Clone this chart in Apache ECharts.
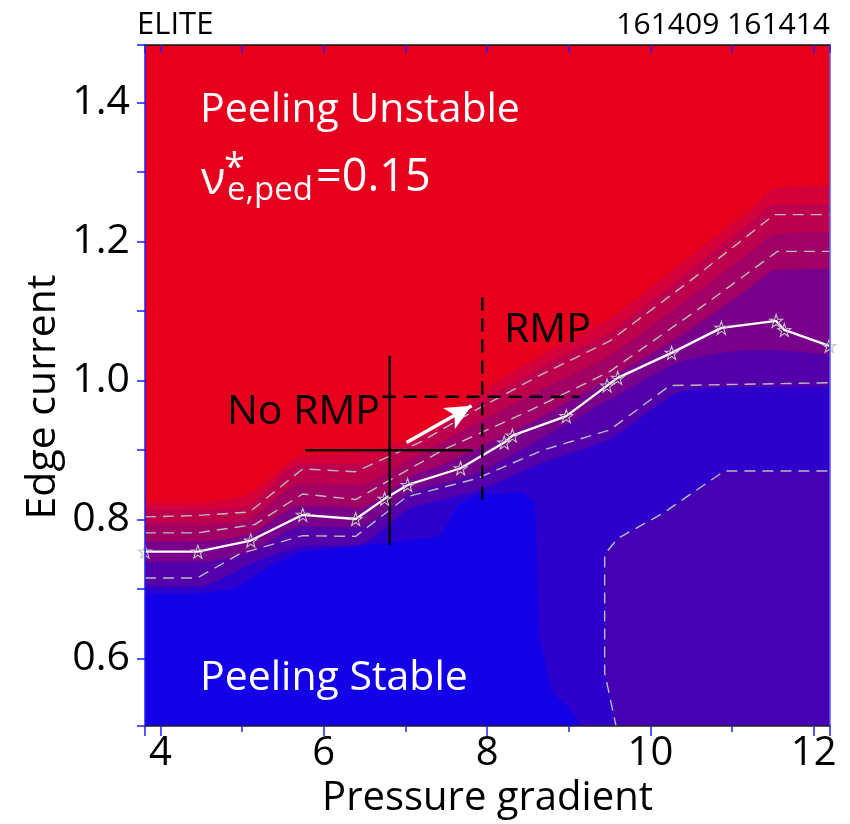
<!DOCTYPE html>
<html><head><meta charset="utf-8">
<script src="https://cdn.jsdelivr.net/npm/echarts@6/dist/echarts.min.js"></script>
<style>html,body{margin:0;padding:0;background:#fff}#c{width:850px;height:824px}</style>
</head><body><div id="c"></div>
<script>
// axis ranges
const xRange = [3.81, 12.2];
const yRange = [0.503, 1.483];

// filled contour band edges (upper edge of each band)
const bandX  = [3.81, 4.48, 5.09, 5.705, 6.44, 7.05, 7.48, 7.91, 8.70, 9.50, 10.36, 11.21, 11.52, 12.2];
const band1Y = [0.824, 0.824, 0.837, 0.891, 0.896, 0.916, 0.947, 0.983, 1.039, 1.089, 1.167, 1.244, 1.276, 1.280];
const band2Y = [0.813, 0.814, 0.821, 0.880, 0.880, 0.907, 0.936, 0.969, 1.023, 1.070, 1.147, 1.227, 1.253, 1.253];
const band3Y = [0.793, 0.793, 0.801, 0.851, 0.850, 0.887, 0.914, 0.941, 0.989, 1.036, 1.109, 1.184, 1.211, 1.214];
const band4Y = [0.769, 0.769, 0.779, 0.820, 0.817, 0.861, 0.881, 0.904, 0.950, 1.004, 1.064, 1.133, 1.159, 1.161];
const band5Y = [0.739, 0.739, 0.753, 0.790, 0.790, 0.839, 0.853, 0.869, 0.919, 0.973, 1.027, 1.044, 1.044, 1.037];
const band6Y = [0.704, 0.704, 0.736, 0.761, 0.764, 0.816, 0.830, 0.843, 0.883, 0.916, 0.984, 0.991, 0.991, 0.991];
const bandColors = ['#D3003A', '#BC004E', '#A10064', '#78008A', '#5300AA', '#2E00CC'];

// stable (blue) region edge
const stableX = [3.81, 4.48, 4.91, 5.34, 5.705, 7.42, 7.66, 7.91, 8.45, 8.58, 8.60, 8.64, 8.80, 9.01, 9.17];
const stableY = [0.694, 0.694, 0.701, 0.733, 0.753, 0.776, 0.823, 0.837, 0.839, 0.825, 0.790, 0.633, 0.551, 0.529, 0.50];

// lower-right region edge (also dashed contour)
const regionDX = [9.585, 9.44, 9.44, 9.60, 10.15, 10.905, 12.2];
const regionDY = [0.50, 0.58, 0.75, 0.773, 0.809, 0.87, 0.87];

// marginal stability boundary (white line with stars)
const boundaryX = [3.81, 4.457, 5.105, 5.742, 6.39, 6.745, 7.027, 7.676, 8.21, 8.31, 8.97, 9.47, 9.60, 10.26, 10.87, 11.54, 11.64, 12.19];
const boundaryY = [0.754, 0.754, 0.770, 0.807, 0.801, 0.830, 0.850, 0.874, 0.911, 0.921, 0.949, 0.993, 1.004, 1.040, 1.076, 1.086, 1.073, 1.050];

// dashed contour lines
const dashAX = [3.81, 4.45, 5.09, 5.74, 6.39, 7.17, 7.91, 8.70, 9.50, 10.48, 11.52, 12.2];
const dashAY = [0.804, 0.806, 0.811, 0.873, 0.869, 0.911, 0.961, 1.011, 1.057, 1.143, 1.239, 1.239];
const dashBX = [3.81, 4.45, 5.155, 5.74, 6.39, 7.455, 8.52, 9.50, 10.60, 11.557, 12.2];
const dashBY = [0.781, 0.781, 0.793, 0.837, 0.829, 0.900, 0.957, 1.013, 1.104, 1.186, 1.186];
const dashCX = [3.81, 4.45, 4.97, 5.74, 6.39, 7.015, 7.87, 8.68, 9.50, 10.24, 12.2];
const dashCY = [0.716, 0.716, 0.751, 0.777, 0.776, 0.833, 0.859, 0.900, 0.929, 0.993, 0.997];

// operating points: [x, y, xLow, xHigh, yLow, yHigh]
const noRmpPoint = [6.807, 0.900, 5.775, 7.823, 0.764, 1.036];
const rmpPoint   = [7.941, 0.977, 6.72, 9.13, 0.829, 1.123];
const arrowFrom = [7.014, 0.911];
const arrowTo   = [7.81, 0.964];

const FONT = 'Open Sans';
const zip = (xs, ys) => xs.map((x, i) => [x, ys[i]]);

function fill(xs, ys, color, smooth) {
  return {
    type: 'line', data: zip(xs, ys), showSymbol: false, smooth: smooth || false,
    lineStyle: { width: 0, opacity: 0 },
    areaStyle: { color: color, opacity: 1, origin: 'start' },
    silent: true
  };
}
function dashed(xs, ys) {
  return {
    type: 'line', data: zip(xs, ys), showSymbol: false,
    lineStyle: { color: '#bcbcbc', width: 1.4, type: [11, 7] }, silent: true
  };
}

const series = [];
[band1Y, band2Y, band3Y, band4Y, band5Y, band6Y].forEach((ys, i) => {
  series.push(fill(bandX, ys, bandColors[i], 0.2));
});
series.push(fill(stableX, stableY, '#1400E6', false));
series.push(fill(regionDX, regionDY, '#4500B4', false));
series.push(dashed(dashAX, dashAY));
series.push(dashed(dashBX, dashBY));
series.push(dashed(dashCX, dashCY));
series.push(dashed(regionDX, regionDY));
series.push({
  type: 'line', data: zip(boundaryX, boundaryY), showSymbol: true, symbolSize: 13,
  symbol: 'path://M0,-10 L2.35,-3.24 L9.51,-3.09 L3.8,1.24 L5.88,8.09 L0,4 L-5.88,8.09 L-3.8,1.24 L-9.51,-3.09 L-2.35,-3.24 Z',
  itemStyle: { color: 'rgba(0,0,0,0)', borderColor: '#c4c4c4', borderWidth: 1.1 },
  lineStyle: { color: '#ffffff', width: 2.3 }, silent: true
});
// No RMP cross (solid)
series.push({ type: 'line', data: [[noRmpPoint[2], noRmpPoint[1]], [noRmpPoint[3], noRmpPoint[1]]], showSymbol: false, lineStyle: { color: '#000', width: 2.5 }, silent: true });
series.push({ type: 'line', data: [[noRmpPoint[0], noRmpPoint[4]], [noRmpPoint[0], noRmpPoint[5]]], showSymbol: false, lineStyle: { color: '#000', width: 2.5 }, silent: true });
// RMP cross (dashed)
series.push({ type: 'line', data: [[rmpPoint[2], rmpPoint[1]], [rmpPoint[3], rmpPoint[1]]], showSymbol: false, lineStyle: { color: '#000', width: 2.5, type: [13, 8] }, silent: true });
series.push({ type: 'line', data: [[rmpPoint[0], rmpPoint[4]], [rmpPoint[0], rmpPoint[5]]], showSymbol: false, lineStyle: { color: '#000', width: 2.5, type: [13, 8] }, silent: true,
  markLine: {
    silent: true, symbol: ['none', 'arrow'], symbolSize: [18, 26], label: { show: false },
    lineStyle: { color: '#fff', width: 3.5, type: 'solid' },
    data: [[{ coord: arrowFrom }, { coord: arrowTo }]]
  }
});

const blue = '#1f1fff';
const option = {
  animation: false,
  grid: { left: 145, right: 20, top: 45, bottom: 93, show: true, backgroundColor: '#E6001E', borderWidth: 0 },
  xAxis: [{
    type: 'value', min: xRange[0], max: xRange[1], position: 'bottom', z: 10,
    name: 'Pressure gradient', nameLocation: 'middle', nameGap: 44,
    nameTextStyle: { fontFamily: FONT, fontSize: 40, color: '#000' },
    axisLine: { show: true, lineStyle: { color: '#222', width: 1.5 } },
    axisTick: { show: true, inside: false, length: 10, lineStyle: { color: blue, width: 1.5 } },
    minorTick: { show: true, splitNumber: 2, length: 6, lineStyle: { color: blue, width: 1.5 } },
    axisLabel: { fontFamily: FONT, fontSize: 40, color: '#000', margin: 8, showMinLabel: false, showMaxLabel: false,
      formatter: v => String(Math.round(v)) },
    splitLine: { show: false }
  }, {
    type: 'value', min: xRange[0], max: xRange[1], position: 'top', z: 10, splitNumber: 8,
    axisLine: { show: true, lineStyle: { color: '#111', width: 1.5 } },
    axisTick: { show: true, inside: true, length: 8, lineStyle: { color: blue, width: 1.5 } },
    axisLabel: { show: false }, splitLine: { show: false }
  }],
  yAxis: [{
    type: 'value', min: yRange[0], max: yRange[1], position: 'left', z: 10,
    axisLine: { show: true, lineStyle: { color: blue, width: 1.5 } },
    axisTick: { show: true, inside: false, length: 8, lineStyle: { color: blue, width: 1.5 } },
    minorTick: { show: true, splitNumber: 2, length: 8, lineStyle: { color: blue, width: 1.5 } },
    axisLabel: { fontFamily: FONT, fontSize: 41, color: '#000', margin: 15, showMinLabel: false, showMaxLabel: false,
      padding: [10, 0, 0, 0], formatter: v => v.toFixed(1) },
    splitLine: { show: false }
  }, {
    type: 'value', min: yRange[0], max: yRange[1], position: 'right', z: 10,
    axisLine: { show: true, lineStyle: { color: '#5a5aff', width: 1.5 } },
    axisTick: { show: false }, axisLabel: { show: false }, splitLine: { show: false }
  }],
  graphic: [
    { type: 'text', z: 100, x: 43, y: 397, rotation: Math.PI / 2,
      style: { text: 'Edge current', fontFamily: FONT, fontSize: 41, fill: '#000', align: 'center', verticalAlign: 'middle' } },
    { type: 'text', z: 100, left: 137, top: 10, style: { text: 'ELITE', fontFamily: FONT, fontSize: 31, fill: '#000' } },
    { type: 'text', z: 100, right: 20, top: 10, style: { text: '161409 161414', fontFamily: FONT, fontSize: 30, fill: '#000' } },
    { type: 'text', z: 100, x: 200, y: 110, style: { text: 'Peeling Unstable', fontFamily: FONT, fontSize: 41, fill: '#fff', verticalAlign: 'middle' } },
    { type: 'text', z: 100, x: 201, y: 181, style: { text: 'ν', fontFamily: FONT, fontSize: 45, fill: '#fff', verticalAlign: 'middle' } },
    { type: 'text', z: 100, x: 224, y: 169, style: { text: '*', fontFamily: FONT, fontSize: 38, fill: '#fff', verticalAlign: 'middle' } },
    { type: 'text', z: 100, x: 227, y: 191, style: { text: 'e,ped', fontFamily: FONT, fontSize: 33, fill: '#fff', verticalAlign: 'middle' } },
    { type: 'text', z: 100, x: 316, y: 178, style: { text: '=0.15', fontFamily: FONT, fontSize: 45, fill: '#fff', verticalAlign: 'middle' } },
    { type: 'text', z: 100, x: 200, y: 678, style: { text: 'Peeling Stable', fontFamily: FONT, fontSize: 41, fill: '#fff', verticalAlign: 'middle' } },
    { type: 'text', z: 100, x: 504, y: 330, style: { text: 'RMP', fontFamily: FONT, fontSize: 41, fill: '#000', verticalAlign: 'middle' } },
    { type: 'text', z: 100, x: 227, y: 412, style: { text: 'No RMP', fontFamily: FONT, fontSize: 41, fill: '#000', verticalAlign: 'middle' } }
  ],
  series: series
};
const chart = echarts.init(document.getElementById('c'), null, { renderer: 'canvas' });
chart.setOption(option);
</script></body></html>
